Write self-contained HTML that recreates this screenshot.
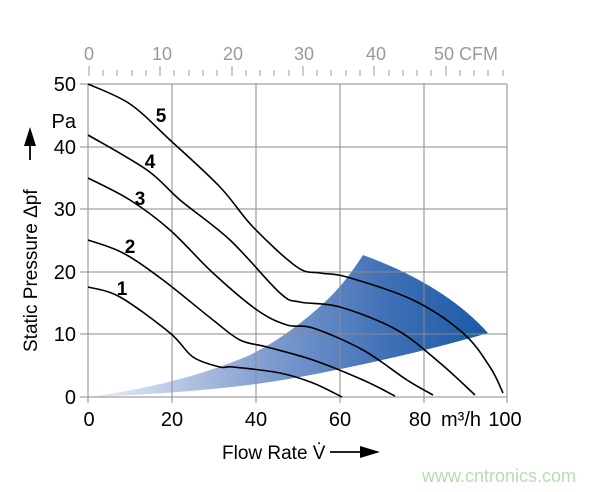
<!DOCTYPE html>
<html><head><meta charset="utf-8"><style>
body{margin:0;background:#fff;}
svg{display:block;font-family:"Liberation Sans",sans-serif;}
</style></head><body>
<svg id="s" width="600" height="492" viewBox="0 0 600 492" xmlns="http://www.w3.org/2000/svg">
<defs>
<linearGradient id="g" x1="88" y1="0" x2="490" y2="0" gradientUnits="userSpaceOnUse">
<stop offset="0" stop-color="#eef1f8"/>
<stop offset="0.45" stop-color="#7f9cd0"/>
<stop offset="0.75" stop-color="#3e6fb6"/>
<stop offset="1" stop-color="#1a5aa6"/>
</linearGradient>
</defs>
<path d="M88,397 Q220,392 300,377 Q410,356 488,333 Q445,285 363,255 Q345,283 327,300 Q290,335 250,355 Q180,385 88,397 Z" fill="url(#g)"/>
<g stroke="#8a8a8a" stroke-width="1" fill="none">
<line x1="88" y1="84" x2="507" y2="84"/>
<line x1="88" y1="147" x2="507" y2="147"/>
<line x1="88" y1="209" x2="507" y2="209"/>
<line x1="88" y1="272" x2="507" y2="272"/>
<line x1="88" y1="334" x2="507" y2="334"/>
<line x1="80" y1="397" x2="507" y2="397"/>
<line x1="88" y1="84" x2="88" y2="403"/>
<line x1="172" y1="84" x2="172" y2="403"/>
<line x1="256" y1="84" x2="256" y2="403"/>
<line x1="340" y1="84" x2="340" y2="403"/>
<line x1="424" y1="84" x2="424" y2="403"/>
<line x1="507" y1="84" x2="507" y2="403"/>
<line x1="80" y1="84" x2="88" y2="84"/><line x1="80" y1="147" x2="88" y2="147"/><line x1="80" y1="209" x2="88" y2="209"/><line x1="80" y1="272" x2="88" y2="272"/><line x1="80" y1="334" x2="88" y2="334"/>
</g>
<g stroke="#999" stroke-width="1">
<line x1="89" y1="66" x2="89" y2="76"/><line x1="160" y1="66" x2="160" y2="76"/><line x1="232" y1="66" x2="232" y2="76"/><line x1="303" y1="66" x2="303" y2="76"/><line x1="374" y1="66" x2="374" y2="76"/><line x1="446" y1="66" x2="446" y2="76"/>
<line x1="103" y1="70" x2="103" y2="76"/><line x1="117" y1="70" x2="117" y2="76"/><line x1="132" y1="70" x2="132" y2="76"/><line x1="146" y1="70" x2="146" y2="76"/>
<line x1="174" y1="70" x2="174" y2="76"/><line x1="189" y1="70" x2="189" y2="76"/><line x1="203" y1="70" x2="203" y2="76"/><line x1="217" y1="70" x2="217" y2="76"/>
<line x1="246" y1="70" x2="246" y2="76"/><line x1="260" y1="70" x2="260" y2="76"/><line x1="274" y1="70" x2="274" y2="76"/><line x1="289" y1="70" x2="289" y2="76"/>
<line x1="317" y1="70" x2="317" y2="76"/><line x1="331" y1="70" x2="331" y2="76"/><line x1="346" y1="70" x2="346" y2="76"/><line x1="360" y1="70" x2="360" y2="76"/>
<line x1="389" y1="70" x2="389" y2="76"/><line x1="403" y1="70" x2="403" y2="76"/><line x1="417" y1="70" x2="417" y2="76"/><line x1="431" y1="70" x2="431" y2="76"/>
<line x1="460" y1="70" x2="460" y2="76"/><line x1="474" y1="70" x2="474" y2="76"/><line x1="488" y1="70" x2="488" y2="76"/><line x1="503" y1="70" x2="503" y2="76"/>
</g>
<g fill="#999" font-size="18" text-anchor="middle">
<text x="89" y="60">0</text><text x="162" y="60">10</text><text x="233" y="60">20</text><text x="304" y="60">30</text><text x="376" y="60">40</text><text x="466" y="60">50 CFM</text>
</g>
<g id="curves" stroke="#000" stroke-width="1.6" fill="none"></g>
<g font-size="19" font-weight="bold" text-anchor="middle">
<text x="161" y="122">5</text><text x="150" y="168">4</text><text x="140" y="205">3</text><text x="130" y="253">2</text><text x="122" y="295">1</text>
</g>
<g font-size="20" text-anchor="end">
<text x="76" y="91">50</text><text x="76" y="154">40</text><text x="76" y="216">30</text><text x="76" y="279">20</text><text x="76" y="341">10</text><text x="76" y="404">0</text>
<text x="76" y="128">Pa</text>
</g>
<g font-size="20" text-anchor="middle">
<text x="89" y="426">0</text><text x="172" y="426">20</text><text x="256" y="426">40</text><text x="340" y="426">60</text><text x="420" y="426">80</text><text x="461" y="426">m³/h</text><text x="505" y="426">100</text>
</g>
<text x="222" y="459" font-size="19">Flow Rate V̇</text>
<line x1="330" y1="452" x2="362" y2="452" stroke="#000" stroke-width="1.8"/>
<polygon points="360,446 380,452 360,458" fill="#000"/>
<text transform="translate(37,352) rotate(-90)" font-size="19">Static Pressure Δpf</text>
<line x1="30" y1="160" x2="30" y2="142" stroke="#000" stroke-width="1.8"/>
<polygon points="24,146 30,127 36,146" fill="#000"/>
<text x="499" y="482" font-size="18" fill="#b8dcb0" text-anchor="middle">www.cntronics.com</text>
</svg>
<script>
var C=[
[[88,84],[130,104],[170,140],[220,187],[253,227],[297,267],[320,273],[347,277],[413,300],[463,333],[490,367],[503,393]],
[[88,135],[147,170],[180,200],[230,240],[280,293],[300,302],[340,307],[397,330],[440,363],[475,395]],
[[88,178],[130,200],[170,230],[213,273],[257,310],[287,325],[313,328],[363,350],[407,380],[433,395]],
[[88,240],[123,253],[163,280],[213,320],[240,340],[267,347],[313,360],[363,380],[395,396]],
[[88,287],[120,297],[170,333],[193,357],[220,367],[233,367],[280,373],[313,383],[342,397]]];
var g=document.getElementById('curves');
C.forEach(function(p){
 var d='M'+p[0][0]+','+p[0][1];
 for(var i=0;i<p.length-1;i++){
  var p0=p[i-1]||p[i],p1=p[i],p2=p[i+1],p3=p[i+2]||p2;
  var c1=[p1[0]+(p2[0]-p0[0])/6,p1[1]+(p2[1]-p0[1])/6];
  var c2=[p2[0]-(p3[0]-p1[0])/6,p2[1]-(p3[1]-p1[1])/6];
  d+=' C'+c1+' '+c2+' '+p2;
 }
 var e=document.createElementNS('http://www.w3.org/2000/svg','path');
 e.setAttribute('d',d);g.appendChild(e);
});
</script>
</body></html>
